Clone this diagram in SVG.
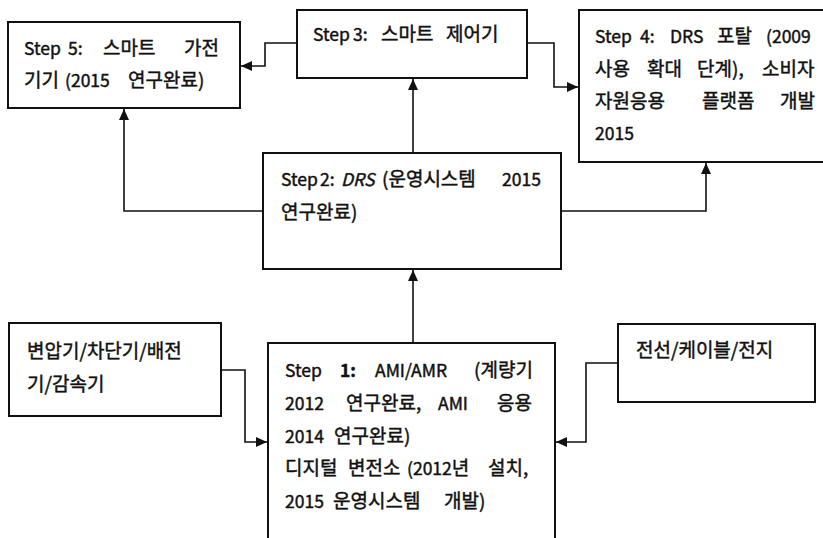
<svg xmlns="http://www.w3.org/2000/svg" width="823" height="538" viewBox="0 0 823 538">
<style>
.box{fill:#fff;stroke:#111;stroke-width:2}
.t{font-family:"Noto Sans CJK KR","Noto Sans",sans-serif;font-size:19px;fill:#111;stroke:#111;stroke-width:0.45}
.l{font-size:17.5px}
.c{fill:none;stroke:#111;stroke-width:1.6}
</style>
<defs>
<marker id="ah" markerUnits="userSpaceOnUse" markerWidth="12" markerHeight="12" viewBox="0 0 12 12" refX="11" refY="6" orient="auto">
<path d="M0,1 L11,6 L0,11 Z" fill="#111"/>
</marker>
</defs>
<rect width="823" height="538" fill="#fff"/>
<g id="connectors">
<path class="c" d="M297,43 H265 V66 H241" marker-end="url(#ah)"/>
<path class="c" d="M527,43 H554 V87 H578" marker-end="url(#ah)"/>
<path class="c" d="M413,153 V79" marker-end="url(#ah)"/>
<path class="c" d="M263,211 H124 V109" marker-end="url(#ah)"/>
<path class="c" d="M561,211 H706 V163" marker-end="url(#ah)"/>
<path class="c" d="M413,343 V270" marker-end="url(#ah)"/>
<path class="c" d="M221,370 H245 V442 H267" marker-end="url(#ah)"/>
<path class="c" d="M618,363 H586 V442 H556" marker-end="url(#ah)"/>
</g>
<g id="step5">
<rect class="box" x="8" y="22" width="232" height="86"/>
<text class="t" y="55"><tspan class="l" x="24">Step</tspan><tspan class="l" x="68">5:</tspan><tspan x="103">스마트</tspan><tspan x="184">가전</tspan></text>
<text class="t" y="87"><tspan x="24">기기</tspan><tspan class="l" x="65">(2015</tspan><tspan x="128">연구완료)</tspan></text>
</g>
<g id="step3">
<rect class="box" x="297" y="10" width="230" height="68"/>
<text class="t" y="41"><tspan class="l" x="313">Step</tspan><tspan class="l" x="353">3:</tspan><tspan x="381">스마트</tspan><tspan x="446">제어기</tspan></text>
</g>
<g id="step4">
<rect class="box" x="579" y="10" width="250" height="152"/>
<text class="t" y="43"><tspan class="l" x="595">Step</tspan><tspan class="l" x="640">4:</tspan><tspan class="l" x="670">DRS</tspan><tspan x="717">포탈</tspan><tspan class="l" x="766">(2009</tspan></text>
<text class="t" y="76"><tspan x="595">사용</tspan><tspan x="647">확대</tspan><tspan x="697">단계),</tspan><tspan x="762">소비자</tspan></text>
<text class="t" y="108"><tspan x="595">자원응용</tspan><tspan x="702">플랫폼</tspan><tspan x="780">개발</tspan></text>
<text class="t" y="140"><tspan class="l" x="595">2015</tspan></text>
</g>
<g id="step2">
<rect class="box" x="263" y="153" width="298" height="116"/>
<text class="t" y="186"><tspan class="l" x="281">Step</tspan><tspan class="l" x="320">2:</tspan><tspan class="l" x="341" font-style="italic">DRS</tspan><tspan x="382">(운영시스템</tspan><tspan class="l" x="502">2015</tspan></text>
<text class="t" y="219"><tspan x="281">연구완료)</tspan></text>
</g>
<g id="step1">
<rect class="box" x="268" y="343" width="287" height="210"/>
<text class="t" y="377"><tspan class="l" x="285">Step</tspan><tspan class="l" x="340" font-weight="bold">1:</tspan><tspan class="l" x="375">AMI/AMR</tspan><tspan x="474">(계량기</tspan></text>
<text class="t" y="410"><tspan class="l" x="285">2012</tspan><tspan x="346">연구완료,</tspan><tspan class="l" x="438">AMI</tspan><tspan x="497">응용</tspan></text>
<text class="t" y="443"><tspan class="l" x="285">2014</tspan><tspan x="334">연구완료)</tspan></text>
<text class="t" y="475"><tspan x="285">디지털</tspan><tspan x="348">변전소</tspan><tspan class="l" x="407">(2012</tspan><tspan>년</tspan><tspan x="488">설치,</tspan></text>
<text class="t" y="508"><tspan class="l" x="285">2015</tspan><tspan x="333">운영시스템</tspan><tspan x="444">개발)</tspan></text>
</g>
<g id="equip">
<rect class="box" x="9" y="323" width="212" height="93"/>
<text class="t" x="27" y="358">변압기/차단기/배전</text>
<text class="t" x="27" y="391">기/감속기</text>
</g>
<g id="cable">
<rect class="box" x="618" y="324" width="197" height="78"/>
<text class="t" x="636" y="357">전선/케이블/전지</text>
</g>
</svg>
